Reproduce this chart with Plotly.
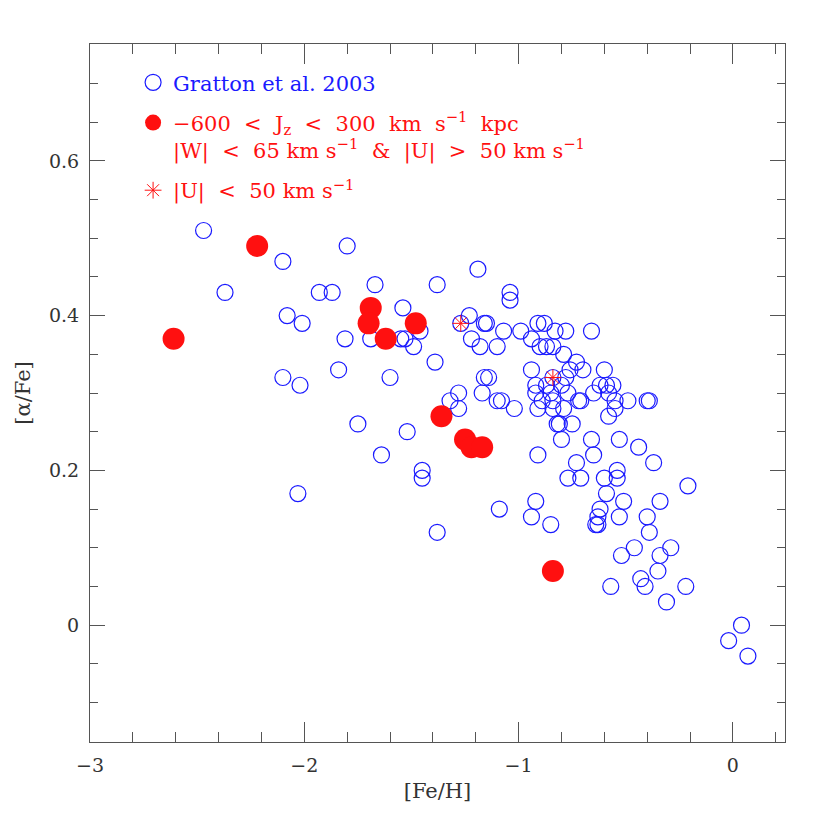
import plotly.graph_objects as go

# Gratton et al. 2003 sample
blue_feh = [
    -2.47, -2.37, -2.10, -2.08, -2.01, -2.10, -2.02, -2.03,
    -1.93, -1.87, -1.80, -1.67, -1.81, -1.84, -1.69, -1.54,
    -1.55, -1.53, -1.46, -1.49, -1.60, -1.75, -1.52, -1.64,
    -1.45, -1.45, -1.39, -1.38, -1.38,
    -1.19, -1.04, -1.04, -1.23, -1.27, -1.16, -1.15, -1.22,
    -1.18, -1.10, -1.07, -1.16, -1.14, -1.17, -1.10, -1.08,
    -1.28, -1.32, -1.28, -1.02, -1.09,
    -0.99, -0.94, -0.91, -0.88, -0.83, -0.78, -0.90, -0.87,
    -0.84, -0.79, -0.73, -0.94, -0.76, -0.70, -0.84, -0.78,
    -0.92, -0.87, -0.80, -0.92, -0.85, -0.77, -0.89, -0.91,
    -0.84, -0.84, -0.79, -0.72, -0.71, -0.82, -0.81, -0.75,
    -0.80, -0.91, -0.73, -0.77, -0.71, -0.92, -0.94, -0.85,
    -0.66,
    -0.60, -0.62, -0.59, -0.56, -0.65, -0.58, -0.55, -0.49,
    -0.40, -0.39, -0.55, -0.58, -0.66, -0.53, -0.44, -0.65,
    -0.37, -0.60, -0.54, -0.54, -0.21, -0.59, -0.51, -0.34,
    -0.62, -0.63, -0.64, -0.63, -0.53, -0.40, -0.39, -0.46,
    -0.29, -0.52, -0.34, -0.35, -0.43, -0.41, -0.57, -0.22,
    -0.31, 0.04, -0.02, 0.07,
]
blue_alpha = [
    0.51, 0.43, 0.47, 0.40, 0.39, 0.32, 0.31, 0.17,
    0.43, 0.43, 0.49, 0.44, 0.37, 0.33, 0.37, 0.41,
    0.37, 0.37, 0.38, 0.36, 0.32, 0.26, 0.25, 0.22,
    0.20, 0.19, 0.34, 0.44, 0.12,
    0.46, 0.43, 0.42, 0.40, 0.39, 0.39, 0.39, 0.37,
    0.36, 0.36, 0.38, 0.32, 0.32, 0.30, 0.29, 0.29,
    0.30, 0.29, 0.28, 0.28, 0.15,
    0.38, 0.37, 0.39, 0.39, 0.38, 0.38, 0.36, 0.36,
    0.36, 0.35, 0.34, 0.33, 0.33, 0.33, 0.32, 0.32,
    0.31, 0.31, 0.31, 0.30, 0.30, 0.30, 0.29, 0.28,
    0.29, 0.28, 0.28, 0.29, 0.29, 0.26, 0.26, 0.26,
    0.24, 0.22, 0.21, 0.19, 0.19, 0.16, 0.14, 0.13,
    0.38,
    0.33, 0.31, 0.31, 0.31, 0.30, 0.30, 0.29, 0.29,
    0.29, 0.29, 0.28, 0.27, 0.24, 0.24, 0.23, 0.22,
    0.21, 0.19, 0.20, 0.19, 0.18, 0.17, 0.16, 0.16,
    0.15, 0.14, 0.13, 0.13, 0.14, 0.14, 0.12, 0.10,
    0.10, 0.09, 0.09, 0.07, 0.06, 0.05, 0.05, 0.05,
    0.03, 0.00, -0.02, -0.04,
]

# -600 < Jz < 300 selection
red_feh = [-2.61, -2.22, -1.69, -1.70, -1.62, -1.48, -1.36, -1.25, -1.22, -1.17, -0.84]
red_alpha = [0.37, 0.49, 0.41, 0.39, 0.37, 0.39, 0.27, 0.24, 0.23, 0.23, 0.07]

# |U| < 50 km/s
star_feh = [-1.27, -0.84]
star_alpha = [0.39, 0.32]

x_ticks = [-3, -2, -1, 0]
x_ticklabels = ["\u22123", "\u22122", "\u22121", "0"]
y_ticks = [0, 0.2, 0.4, 0.6]
y_ticklabels = ["0", "0.2", "0.4", "0.6"]

FONT = "DejaVu Serif"
BLUE = "#1a1aff"
RED = "#ff1010"
s2 = "\u00a0 "  # wide gap

name_blue = f"<span style='color:{BLUE}'>Gratton et al. 2003</span>"
name_red = (f"\u2212600{s2}&lt;{s2}J<sub>z</sub>{s2}&lt;{s2}300{s2}km{s2}s<sup>\u22121</sup>{s2}kpc"
            f"<br>|W|{s2}&lt;{s2}65 km s<sup>\u22121</sup>{s2}&amp;{s2}|U|{s2}&gt;{s2}50 km s<sup>\u22121</sup>")
name_star = f"|U|{s2}&lt;{s2}50 km s<sup>\u22121</sup>"

fig = go.Figure()
fig.add_trace(go.Scatter(
    x=blue_feh, y=blue_alpha, mode="markers", name=name_blue, legendgroup="a",
    marker=dict(symbol="circle-open", size=16, color=BLUE, line=dict(width=1.2, color=BLUE)),
))
fig.add_trace(go.Scatter(
    x=red_feh, y=red_alpha, mode="markers", name=name_red, legendgroup="b",
    marker=dict(symbol="circle", size=22, color=RED, line=dict(width=0)),
))
fig.add_trace(go.Scatter(
    x=star_feh, y=star_alpha, mode="markers", name=name_star, legendgroup="c",
    marker=dict(symbol="asterisk-open", size=14, color=RED, line=dict(width=1, color=RED)),
))

axis_common = dict(
    showgrid=False, zeroline=False, showline=True, linecolor="#555", linewidth=1,
    mirror="ticks", ticks="inside", tickcolor="#555", tickwidth=1,
    tickfont=dict(family=FONT, size=19, color="#333"),
    ticklabelstandoff=6, automargin=False,
)

fig.update_layout(
    width=830, height=830,
    paper_bgcolor="white", plot_bgcolor="white",
    margin=dict(l=90, r=45, t=44, b=88),
    font=dict(family=FONT, color="#333"),
    showlegend=True,
    legend=dict(
        x=0.062, y=0.974, xanchor="left", yanchor="top",
        bgcolor="rgba(0,0,0,0)", borderwidth=0,
        font=dict(family=FONT, size=21, color=RED),
        traceorder="grouped", tracegroupgap=10, valign="top",
    ),
    xaxis=dict(
        range=[-3, 0.243], tickvals=x_ticks, ticktext=x_ticklabels, ticklen=20,
        minor=dict(dtick=0.2, ticks="inside", ticklen=10, tickcolor="#555", tickwidth=1),
        title=dict(text="[Fe/H]", font=dict(family=FONT, size=21, color="#333"), standoff=8),
        **axis_common,
    ),
    yaxis=dict(
        range=[-0.151, 0.751], tickvals=y_ticks, ticktext=y_ticklabels, ticklen=15,
        minor=dict(dtick=0.05, ticks="inside", ticklen=8, tickcolor="#555", tickwidth=1),
        title=dict(text="[\u03b1/Fe]", font=dict(family=FONT, size=21, color="#333"), standoff=12),
        **axis_common,
    ),
)

fig.write_html("out.html", config={"displayModeBar": False},
               post_script="document.body.style.margin='0px';")
